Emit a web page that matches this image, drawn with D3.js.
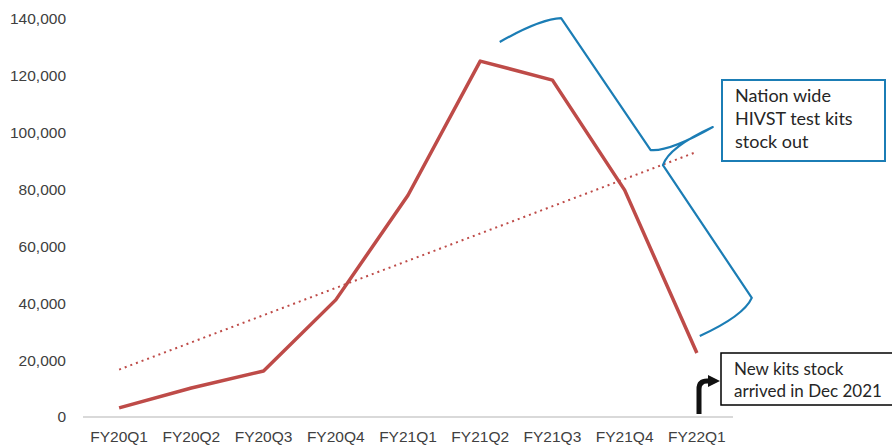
<!DOCTYPE html>
<html lang="en">
<head>
<meta charset="UTF-8">
<title>HIVST kits</title>
<style>
  body { margin: 0; background: #fff; }
  svg { display: block; }
</style>
</head>
<body>
<svg width="892" height="446"></svg>
<script src="https://d3js.org/d3.v7.min.js"></script>
<script>
// chart data
const quarters = ["FY20Q1", "FY20Q2", "FY20Q3", "FY20Q4", "FY21Q1", "FY21Q2", "FY21Q3", "FY21Q4", "FY22Q1"];
const kits = [3200, 10200, 16200, 41200, 78000, 125200, 118500, 79800, 22500];
const yTicks = [0, 20000, 40000, 60000, 80000, 100000, 120000, 140000];

// annotation brace, in [category index, value] units
const brace = [[5.27, 131900], [6.12, 140300], [7.36, 93900], [8.22, 102000], [7.53, 88600], [8.76, 41900], [8.04, 28500]];
const stockOutText = ["Nation wide", "HIVST test kits", "stock out"];
const arrivalText = ["New kits stock", "arrived in Dec 2021"];

const svg = d3.select("svg");
const red = "#be4b48", blue = "#1b7db5";

const x = d3.scaleBand().domain(quarters).range([83, 733]);
const xi = d3.scaleLinear().domain([0, quarters.length - 1])
    .range([x(quarters[0]) + x.bandwidth() / 2, x(quarters[quarters.length - 1]) + x.bandwidth() / 2]);
const y = d3.scaleLinear().domain([0, 140000]).range([417, 19]);

// y labels
svg.append("g").selectAll("text").data(yTicks).enter().append("text")
    .attr("x", 66).attr("y", d => y(d)).attr("dy", "0.35em")
    .attr("text-anchor", "end")
    .style("font", "15.5px 'Liberation Sans', Arial, sans-serif").style("fill", "#404040")
    .text(d => d3.format(",")(d));

// x axis line
svg.append("line").attr("x1", 83).attr("x2", 733).attr("y1", y(0)).attr("y2", y(0))
    .style("stroke", "#d9d9d9").style("stroke-width", 2);

svg.append("g").selectAll("text").data(quarters).enter().append("text")
    .attr("x", d => x(d) + x.bandwidth() / 2).attr("y", 442)
    .attr("text-anchor", "middle")
    .style("font", "15.5px 'Liberation Sans', Arial, sans-serif").style("fill", "#404040")
    .text(d => d);

// linear trendline (least squares)
const n = kits.length;
const mx = d3.mean(kits, (d, i) => i), my = d3.mean(kits);
const slope = d3.sum(kits, (d, i) => (i - mx) * (d - my)) / d3.sum(kits, (d, i) => (i - mx) * (i - mx));
const icpt = my - slope * mx;
svg.append("line")
    .attr("x1", xi(0)).attr("y1", y(icpt))
    .attr("x2", xi(n - 1)).attr("y2", y(icpt + slope * (n - 1)))
    .style("stroke", red).style("stroke-width", 2).style("stroke-dasharray", "2,4");

// main line
svg.append("path").datum(kits)
    .attr("d", d3.line().x((d, i) => xi(i)).y(d => y(d)))
    .style("fill", "none").style("stroke", red).style("stroke-width", 3.5)
    .style("stroke-linejoin", "round");

// blue brace
const p = brace.map(d => [xi(d[0]), y(d[1])]);
const bpath = `M${p[0]} Q${p[0][0] + 40},${p[1][1] + 1} ${p[1]} L${p[2]} Q${p[2][0] + 18},${p[2][1] + 2} ${p[3]}`
    + ` Q${p[4][0] + 6},${p[4][1] - 18} ${p[4]} L${p[5]} Q${p[5][0] - 8},${p[5][1] + 18} ${p[6]}`;
svg.append("path").attr("d", bpath)
    .style("fill", "none").style("stroke", blue).style("stroke-width", 2.2).style("stroke-linejoin", "round");

// stock out callout
svg.append("rect").attr("x", 722).attr("y", 80).attr("width", 163).attr("height", 81)
    .style("fill", "#fff").style("stroke", blue).style("stroke-width", 2);
svg.append("g").selectAll("text").data(stockOutText).enter().append("text")
    .attr("x", 735).attr("y", (d, i) => 102 + i * 23)
    .style("font", "18px Lato, 'Open Sans', sans-serif").style("fill", "#262626")
    .text(d => d);

// arrival callout
svg.append("rect").attr("x", 721).attr("y", 353).attr("width", 175).attr("height", 52)
    .style("fill", "#fff").style("stroke", "#000").style("stroke-width", 1.5);
svg.append("g").selectAll("text").data(arrivalText).enter().append("text")
    .attr("x", 734).attr("y", (d, i) => 375 + i * 22)
    .style("font", "17px Lato, 'Open Sans', sans-serif").style("fill", "#262626")
    .text(d => d);

// bent arrow
svg.append("defs").append("marker").attr("id", "ah")
    .attr("viewBox", "0 0 10 10").attr("refX", 5).attr("refY", 5)
    .attr("markerWidth", 2.4).attr("markerHeight", 2.4).attr("orient", "auto")
    .append("path").attr("d", "M0,0 L10,5 L0,10 Z").style("fill", "#111");
svg.append("path").attr("d", "M699,414 L699,389 Q699,381 707,381 L714,381")
    .style("fill", "none").style("stroke", "#111").style("stroke-width", 5)
    .attr("marker-end", "url(#ah)");
</script>
</body>
</html>
